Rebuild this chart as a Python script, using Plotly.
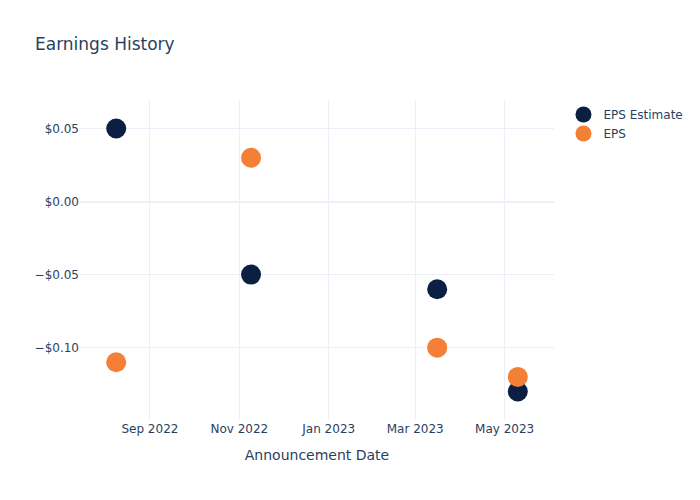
import plotly.graph_objects as go

dates = ["2022-08-09", "2022-11-09", "2023-03-16", "2023-05-10"]
eps_estimate = [0.05, -0.05, -0.06, -0.13]
eps_actual = [-0.11, 0.03, -0.10, -0.12]

fig = go.Figure()
fig.add_trace(go.Scatter(x=dates, y=eps_estimate, mode="markers", name="EPS Estimate",
                         marker=dict(color="#0B1F42", size=20)))
fig.add_trace(go.Scatter(x=dates, y=eps_actual, mode="markers", name="EPS",
                         marker=dict(color="#F47F36", size=20)))
fig.update_layout(
    template="plotly_white",
    width=700, height=500,
    title=dict(text="Earnings History"),
    font=dict(family="DejaVu Sans"),
    xaxis=dict(title="Announcement Date"),
    yaxis=dict(tickformat="$.2f"),
)
fig.write_html("out.html")
